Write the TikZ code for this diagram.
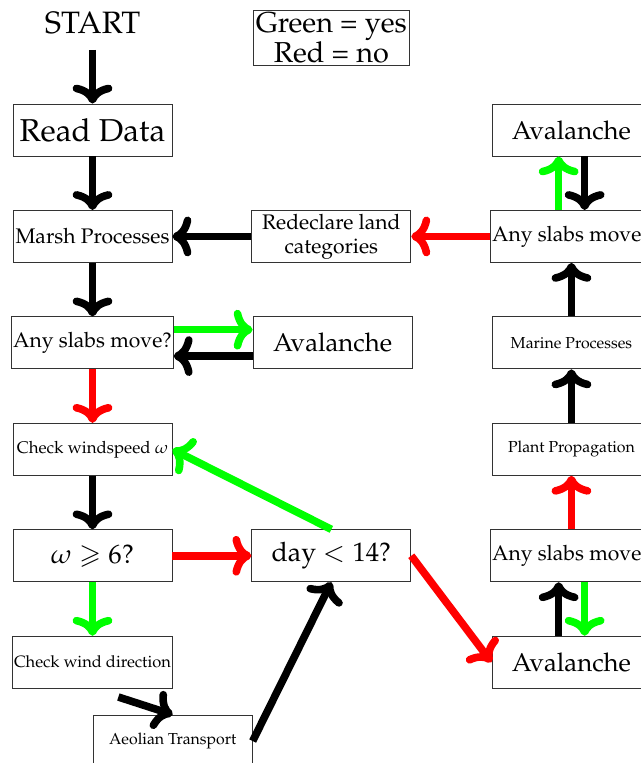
\documentclass[tikz,border=0pt]{standalone}
\usepackage[T1]{fontenc}
\usepackage{mathpazo}
\usepackage{amssymb}
\usetikzlibrary{positioning}
\usetikzlibrary{arrows.meta}

\begin{document}
\begin{tikzpicture}[
  block/.style = {
    draw = black!80,
    rectangle,
    fill = white,
    line width = 0.6pt,
    inner sep = 1pt,
    minimum width = 3.975cm,
    minimum height = 1.3cm,
  },
  bare/.style = {
    block,
    draw = none,
    fill = none,
  },
  link/.style = {
    ->,
    line width = 5.4pt,
  },
  >={Computer Modern Rightarrow[scale=1.0]},
]

  \useasboundingbox (-2.3125,3.25) rectangle (13.7125,-15.825);
  \clip (-2.3125,3.25) rectangle (13.7125,-15.825);

  % left column
  \node[block,font=\fontsize{22.5}{26}\selectfont] (read) {Read Data};
  \node[bare,font=\fontsize{22}{26}\selectfont] (start) [above=1.34cm of read] {START};
  \node[block,font=\fontsize{15}{17}\selectfont] (marsh) [below=1.34cm of read] {Marsh Processes};
  \node[block,font=\fontsize{15}{17}\selectfont] (slabsA) [below=1.34cm of marsh] {Any slabs move?};
  \node[block,font=\fontsize{12}{14}\selectfont] (chk) [below=1.34cm of slabsA] {Check windspeed $\omega$};
  \node[block,font=\fontsize{19}{22}\selectfont] (omega) [below=1.34cm of chk] {$\omega \geqslant 6?$};
  \node[block,font=\fontsize{11.7}{14}\selectfont] (cwd) [below=1.34cm of omega] {Check wind direction};
  \node[block,font=\fontsize{11.3}{14}\selectfont,anchor=north] (aeo) at ([yshift=-0.65cm]cwd.south east) {Aeolian Transport};

  % middle column
  \node[block,font=\fontsize{15}{17}\selectfont,align=center] (redec) [right=1.975cm of marsh] {Redeclare land\\categories};
  \node[block,font=\fontsize{18.3}{22}\selectfont] (avA) [right=1.975cm of slabsA] {Avalanche};
  \node[block,font=\fontsize{19}{22}\selectfont] (day) [right=1.975cm of omega] {day $<14$?};
  \node[draw=black!80,line width=0.6pt,inner sep=1.5pt,align=center,font=\fontsize{20.5}{21.3}\selectfont] (legend) [above=3.6cm of redec] {Green = yes\\Red = no};

  % right column
  \node[block,font=\fontsize{15}{17}\selectfont] (slabsB) [right=1.975cm of redec] {Any slabs move?};
  \node[block,font=\fontsize{18.3}{22}\selectfont] (avB) [above=1.34cm of slabsB] {Avalanche};
  \node[block,font=\fontsize{11.3}{14}\selectfont] (marine) [below=1.34cm of slabsB] {Marine Processes};
  \node[block,font=\fontsize{11.3}{14}\selectfont] (plant) [below=1.34cm of marine] {Plant Propagation};
  \node[block,font=\fontsize{15}{17}\selectfont] (slabsC) [below=1.34cm of plant] {Any slabs move?};
  \node[block,font=\fontsize{18.3}{22}\selectfont] (avC) [below=1.34cm of slabsC] {Avalanche};

  \path[link] (start) edge (read);
  \path[link] (read) edge (marsh);
  \path[link] (marsh) edge (slabsA);
  \path[link] (slabsA) edge[red] (chk);
  \path[link] (chk) edge (omega);
  \path[link] (omega) edge[green] (cwd);
  \path[link] (cwd.south) edge[shorten <=0.68cm] (aeo.north);

  \path[link] ([yshift=0.33cm]slabsA.east) edge[green] ([yshift=0.33cm]avA.west);
  \path[link] ([yshift=-0.33cm]avA.west) edge ([yshift=-0.33cm]slabsA.east);

  \path[link] (omega) edge[red] (day);
  \path[link] (aeo.east) edge (day.south);
  \path[link] (day.north) edge[green] (chk.east);
  \path[link] (day.east) edge[red] (avC.west);

  \path[link] ([xshift=-0.32cm]avC.north) edge ([xshift=-0.32cm]slabsC.south);
  \path[link] ([xshift=0.33cm]slabsC.south) edge[green] ([xshift=0.33cm]avC.north);
  \path[link] (slabsC) edge[red] (plant);
  \path[link] (plant) edge (marine);
  \path[link] (marine) edge (slabsB);
  \path[link] ([xshift=-0.32cm]slabsB.north) edge[green] ([xshift=-0.32cm]avB.south);
  \path[link] ([xshift=0.33cm]avB.south) edge ([xshift=0.33cm]slabsB.north);

  \path[link] (slabsB) edge[red] (redec);
  \path[link] (redec) edge (marsh);

\end{tikzpicture}
\end{document}
